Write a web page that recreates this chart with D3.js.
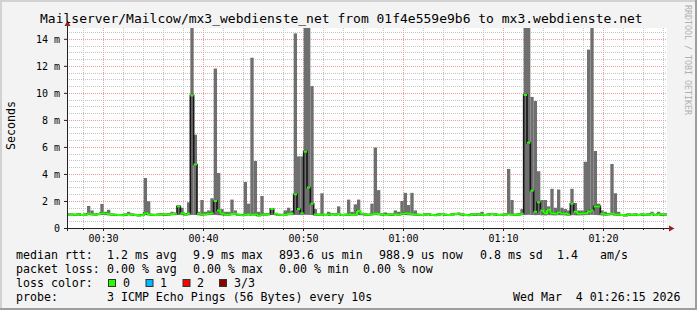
<!DOCTYPE html>
<html>
<head>
<meta charset="utf-8">
<script src="https://cdn.jsdelivr.net/npm/d3@7"></script>
<style>
html, body { margin: 0; padding: 0; background: #f3f3f3; }
svg { display: block; font-family: "DejaVu Sans Mono", monospace; }
text { white-space: pre; }
</style>
</head>
<body>
<svg id="chart" width="697" height="310"></svg>
<script>
// time window of the graph, one sample every 20 s
var startTime = new Date(2026, 2, 4, 0, 26, 24),
    endTime = new Date(2026, 2, 4, 1, 26, 24),
    stepSeconds = 20;

// median rtt per sample (ms)
var medianRtt = [
  1.00, 1.00, 0.98, 1.01, 0.97, 1.00, 1.05, 1.02, 1.00, 1.03, 1.10, 1.08, 1.04, 1.00, 0.98,
  0.96, 0.95, 0.99, 1.02, 1.00, 0.97, 0.92, 0.95, 1.10, 1.02, 0.98, 0.97, 1.00, 1.01, 0.99,
  1.00, 1.03, 1.05, 1.60, 1.10, 1.00, 1.05, 9.80, 4.70, 1.05, 1.00, 1.02, 1.06, 1.10, 2.00,
  1.30, 1.05, 0.98, 1.00, 1.04, 1.06, 0.98, 0.95, 1.00, 1.02, 0.97, 1.00, 0.93, 0.98, 1.00,
  1.02, 1.40, 1.05, 0.98, 0.97, 1.00, 1.04, 1.05, 2.50, 1.40, 1.10, 5.65, 3.00, 1.80, 1.00,
  0.98, 1.00, 0.97, 0.99, 1.02, 1.00, 1.03, 0.96, 0.98, 1.00, 0.97, 1.00, 1.25, 1.05, 1.00,
  0.98, 1.02, 1.05, 1.03, 1.00, 0.97, 1.00, 0.99, 1.02, 1.00, 1.06, 1.10, 1.05, 1.02, 1.00,
  0.98, 0.97, 1.00, 1.02, 0.96, 0.95, 1.00, 1.03, 0.98, 0.96, 1.00, 1.04, 1.06, 1.00, 0.97,
  0.95, 1.00, 0.99, 1.01, 0.98, 0.96, 1.00, 1.04, 1.00, 0.97, 0.98, 1.00, 1.02, 1.00, 0.98,
  1.00, 1.05, 9.85, 6.30, 2.76, 1.20, 1.90, 1.30, 1.10, 1.35, 1.10, 1.05, 1.15, 1.08, 1.05,
  1.00, 1.80, 1.20, 1.05, 1.10, 1.08, 1.20, 1.30, 1.60, 1.60, 1.05, 1.00, 1.02, 1.05, 1.00,
  0.98, 0.96, 0.93, 1.00, 0.98, 1.00, 0.97, 0.99, 0.98, 1.00, 1.03, 0.97, 1.02, 0.99, 1.00
];

// highest ping per sample (ms), top of the smoke
var maxRtt = [
  1.08, 1.06, 1.05, 1.10, 1.04, 1.08, 1.63, 1.30, 1.07, 1.10, 1.78, 1.20, 1.35, 1.06, 1.05,
  1.04, 1.03, 1.06, 1.20, 1.08, 1.05, 1.00, 1.03, 3.70, 1.98, 1.06, 1.05, 1.07, 1.09, 1.06,
  1.08, 1.20, 1.15, 1.65, 1.50, 1.08, 1.90, 15.0, 6.90, 1.20, 2.07, 1.20, 1.30, 2.20, 11.8,
  4.07, 1.40, 1.20, 1.20, 2.10, 1.30, 1.06, 1.03, 3.40, 1.80, 12.6, 4.96, 1.20, 2.37, 1.08,
  1.10, 1.45, 1.12, 1.06, 1.05, 1.30, 1.50, 1.30, 14.4, 5.30, 5.30, 15.0, 15.0, 10.5, 1.40,
  1.06, 2.57, 1.05, 1.20, 1.10, 1.08, 1.60, 1.04, 1.06, 2.10, 1.20, 1.75, 2.10, 1.12, 1.08,
  1.06, 1.80, 5.95, 2.80, 1.08, 1.15, 1.08, 1.07, 1.30, 1.20, 2.00, 2.60, 1.70, 2.60, 1.30,
  1.06, 1.05, 1.08, 1.10, 1.04, 1.03, 1.08, 1.10, 1.06, 1.04, 1.08, 1.12, 1.15, 1.08, 1.05,
  1.03, 1.08, 1.07, 1.09, 1.20, 1.04, 1.08, 1.12, 1.08, 1.05, 1.06, 1.08, 4.37, 2.07, 1.06,
  1.08, 1.40, 15.0, 15.0, 9.70, 9.40, 4.20, 2.07, 2.07, 1.60, 2.90, 1.50, 2.85, 1.50, 1.40,
  1.30, 2.90, 1.85, 1.30, 1.30, 4.90, 13.2, 15.0, 5.70, 1.80, 1.30, 1.20, 1.10, 4.74, 2.57,
  1.20, 1.04, 1.01, 1.08, 1.06, 1.08, 1.05, 1.07, 1.06, 1.08, 1.20, 1.05, 1.20, 1.07, 1.08
];

// lowest ping per sample (ms), bottom of the smoke
var minRtt = [
  0.92, 0.93, 0.91, 0.94, 0.90, 0.92, 0.95, 0.93, 0.92, 0.94, 0.96, 0.95, 0.93, 0.92, 0.91,
  0.90, 0.89, 0.92, 0.94, 0.92, 0.90, 0.87, 0.89, 0.95, 0.93, 0.91, 0.90, 0.92, 0.93, 0.92,
  0.92, 0.94, 0.95, 0.96, 0.95, 0.92, 0.94, 0.97, 0.96, 0.94, 0.92, 0.93, 0.95, 0.96, 0.97,
  0.95, 0.93, 0.91, 0.92, 0.94, 0.95, 0.91, 0.89, 0.92, 0.93, 0.90, 0.92, 0.88, 0.91, 0.92,
  0.93, 0.96, 0.94, 0.91, 0.90, 0.92, 0.94, 0.95, 0.97, 0.96, 0.95, 0.98, 0.97, 0.96, 0.92,
  0.91, 0.92, 0.90, 0.91, 0.93, 0.92, 0.94, 0.89, 0.91, 0.92, 0.90, 0.92, 0.95, 0.94, 0.92,
  0.91, 0.93, 0.95, 0.94, 0.92, 0.90, 0.92, 0.91, 0.93, 0.92, 0.95, 0.96, 0.94, 0.93, 0.92,
  0.91, 0.90, 0.92, 0.93, 0.89, 0.88, 0.92, 0.94, 0.91, 0.89, 0.92, 0.94, 0.95, 0.92, 0.90,
  0.88, 0.92, 0.91, 0.93, 0.91, 0.89, 0.92, 0.94, 0.92, 0.90, 0.91, 0.92, 0.95, 0.94, 0.91,
  0.92, 0.95, 0.97, 0.98, 0.96, 0.95, 0.96, 0.94, 0.93, 0.95, 0.94, 0.93, 0.95, 0.94, 0.93,
  0.92, 0.95, 0.94, 0.93, 0.94, 0.95, 0.96, 0.97, 0.96, 0.95, 0.93, 0.92, 0.93, 0.95, 0.93,
  0.91, 0.89, 0.87, 0.92, 0.91, 0.92, 0.90, 0.91, 0.90, 0.92, 0.94, 0.90, 0.93, 0.91, 0.92
];

// axis ticks
var yTicks = [0, 2, 4, 6, 8, 10, 12, 14];
var yTickLabels = ["0", "2 m", "4 m", "6 m", "8 m", "10 m", "12 m", "14 m"];

// texts
var titleText = "Mailserver/Mailcow/mx3_webdienste_net from 01f4e559e9b6 to mx3.webdienste.net";
var rttLegend = ["median rtt:", "1.2 ms avg", "9.9 ms max", "893.6 us min", "988.9 us now", "0.8 ms sd", "1.4", "am/s"];
var lossLegend = ["packet loss:", "0.00 % avg", "0.00 % max", "0.00 % min", "0.00 % now"];
var lossColorLabels = ["0", "1", "2", "3/3"];
var probeLegend = ["probe:", "3 ICMP Echo Pings (56 Bytes) every 10s", "Wed Mar  4 01:26:15 2026"];


var svg = d3.select("#chart");
var W = 697, H = 310;
var plotLeft = 67, plotRight = 667, plotTop = 28, plotBottom = 228;

var x = d3.scaleTime().domain([startTime, endTime]).range([plotLeft, plotRight]);
var y = d3.scaleLinear().domain([0, 14.8]).range([plotBottom, plotTop]);

var n = medianRtt.length;
function t(i) { return new Date(startTime.getTime() + i * stepSeconds * 1000); }

// background and 3d frame
svg.append("rect").attr("width", W).attr("height", H).attr("fill", "#f3f3f3");
svg.append("rect").attr("x", 0).attr("y", 0).attr("width", W).attr("height", 2).attr("fill", "#d2d2d2");
svg.append("rect").attr("x", 0).attr("y", 0).attr("width", 2).attr("height", H).attr("fill", "#d2d2d2");
svg.append("rect").attr("x", 0).attr("y", H - 2).attr("width", W).attr("height", 2).attr("fill", "#9e9e9e");
svg.append("rect").attr("x", W - 2).attr("y", 0).attr("width", 2).attr("height", H).attr("fill", "#9e9e9e");

// canvas
svg.append("rect").attr("x", plotLeft).attr("y", plotTop)
  .attr("width", plotRight - plotLeft).attr("height", plotBottom - plotTop)
  .attr("fill", "#fff");

svg.append("clipPath").attr("id", "plot")
  .append("rect").attr("x", plotLeft).attr("y", plotTop)
  .attr("width", plotRight - plotLeft).attr("height", plotBottom - plotTop);

// grid
var grid = svg.append("g").attr("shape-rendering", "crispEdges");
var minorX = x.ticks(d3.timeMinute.every(2)).filter(function(d) { return d.getMinutes() % 10 !== 0; });
var majorX = x.ticks(d3.timeMinute.every(10));
var minorY = d3.range(0.5, 14.8, 0.5).filter(function(d) { return d % 2 !== 0; });

function px(v) { return Math.round(v) + 0.5; }

grid.selectAll("line.mx").data(minorX).join("line")
  .attr("x1", function(d) { return px(x(d)); })
  .attr("x2", function(d) { return px(x(d)); })
  .attr("y1", plotTop).attr("y2", plotBottom)
  .attr("stroke", "#c4c4c4").attr("stroke-dasharray", "1,1");
grid.selectAll("line.my").data(minorY).join("line")
  .attr("x1", plotLeft).attr("x2", plotRight)
  .attr("y1", function(d) { return px(y(d)); })
  .attr("y2", function(d) { return px(y(d)); })
  .attr("stroke", "#c4c4c4").attr("stroke-dasharray", "1,1");
grid.selectAll("line.Mx").data(majorX).join("line")
  .attr("x1", function(d) { return px(x(d)); })
  .attr("x2", function(d) { return px(x(d)); })
  .attr("y1", plotTop).attr("y2", plotBottom)
  .attr("stroke", "#f09a9a").attr("stroke-dasharray", "1,1");
grid.selectAll("line.My").data(yTicks.slice(1)).join("line")
  .attr("x1", plotLeft).attr("x2", plotRight)
  .attr("y1", function(d) { return px(y(d)); })
  .attr("y2", function(d) { return px(y(d)); })
  .attr("stroke", "#f09a9a").attr("stroke-dasharray", "1,1");

// data
var plot = svg.append("g").attr("clip-path", "url(#plot)");

// smoke
plot.selectAll("rect.smoke").data(d3.range(n)).join("rect")
  .attr("class", "smoke")
  .attr("x", function(i) { return x(t(i)); })
  .attr("width", function(i) { return x(t(i + 1)) - x(t(i)); })
  .attr("y", function(i) { return y(maxRtt[i]); })
  .attr("height", function(i) { return y(minRtt[i]) - y(maxRtt[i]); })
  .attr("fill", "#6f6f6f");

// median line, black steps
var medPts = d3.range(n).map(function(i) { return [x(t(i)), y(medianRtt[i])]; });
medPts.push([x(t(n)), y(medianRtt[n - 1])]);
plot.append("path")
  .attr("d", d3.line().curve(d3.curveStepAfter)(medPts))
  .attr("fill", "none").attr("stroke", "#151515").attr("stroke-width", 1.6);

// median line, loss colour (0 loss everywhere)
var p = d3.path();
for (var i = 0; i < n; i++) {
  var x0 = x(t(i)), x1 = x(t(i + 1)), yy = y(medianRtt[i]);
  p.moveTo(x0, yy);
  p.lineTo(x1, yy);
  if (i < n - 1) {
    var yn = y(medianRtt[i + 1]);
    if (Math.abs(yn - yy) < 4) p.lineTo(x1, yn);
  }
}
plot.append("path").attr("d", p.toString())
  .attr("fill", "none").attr("stroke", "#26ff00").attr("stroke-width", 2);

// axes
var xAxis = svg.append("g").attr("transform", "translate(0," + plotBottom + ")")
  .call(d3.axisBottom(x).ticks(d3.timeMinute.every(10)).tickFormat(d3.timeFormat("%H:%M"))
    .tickSize(3).tickPadding(3.5));
var xMinor = svg.append("g").attr("transform", "translate(0," + plotBottom + ")")
  .call(d3.axisBottom(x).ticks(d3.timeMinute.every(2)).tickFormat("").tickSize(2));
var yAxis = svg.append("g").attr("transform", "translate(" + plotLeft + ",0)")
  .call(d3.axisLeft(y).tickValues(yTicks).tickFormat(function(d, i) { return yTickLabels[i]; })
    .tickSize(3).tickPadding(4));

[xAxis, xMinor, yAxis].forEach(function(a) {
  a.select(".domain").remove();
  a.selectAll("line").attr("stroke", "#222");
  a.selectAll("text").attr("font-size", 10).attr("fill", "#000")
    .attr("font-family", "DejaVu Sans Mono");
});

svg.append("line").attr("x1", plotLeft + 0.5).attr("x2", plotLeft + 0.5)
  .attr("y1", plotBottom + 3).attr("y2", 25).attr("stroke", "#222");
svg.append("line").attr("x1", plotLeft - 3).attr("x2", 670)
  .attr("y1", plotBottom + 0.5).attr("y2", plotBottom + 0.5).attr("stroke", "#222");
svg.append("path").attr("d", "M64.5,26L70.5,26L67.5,20.5Z").attr("fill", "#9a2020");
svg.append("path").attr("d", "M669,225.5L669,231.5L674.5,228.5Z").attr("fill", "#9a2020");

// title and labels
svg.append("text").attr("x", 40).attr("y", 23.3).attr("font-size", 13).attr("fill", "#000")
  .text(titleText);
svg.append("text").attr("transform", "translate(15,125.5) rotate(-90)")
  .attr("text-anchor", "middle").attr("font-size", 11.6).attr("fill", "#000").text("Seconds");
svg.append("text").attr("transform", "translate(685,5) rotate(90)")
  .attr("font-size", 8.3).attr("fill", "#b0b0b0").text("RRDTOOL / TOBI OETIKER");

// legend
var legend = svg.append("g").attr("font-size", 11.6).attr("fill", "#000");
function row(items, xs, base) {
  items.forEach(function(s, k) {
    legend.append("text").attr("x", xs[k]).attr("y", base).text(s);
  });
}
row(rttLegend, [16, 107, 193, 279, 379, 480, 557, 600], 258.5);
row(lossLegend, [16, 107, 193, 279, 363], 272.5);
row(["loss color:"], [16], 286.5);
var swatchColors = ["#26ff00", "#00b8ff", "#ff0000", "#8c0000"];
var swatchX = [108.5, 146, 183, 219.5], labelX = [123, 160, 197, 234];
lossColorLabels.forEach(function(s, k) {
  legend.append("rect").attr("x", swatchX[k]).attr("y", 279.5).attr("width", 7).attr("height", 7)
    .attr("fill", swatchColors[k]).attr("stroke", "#333").attr("stroke-width", 1);
  legend.append("text").attr("x", labelX[k]).attr("y", 286.5).text(s);
});
row(probeLegend, [16, 107, 513], 300.5);
</script>
</body>
</html>
